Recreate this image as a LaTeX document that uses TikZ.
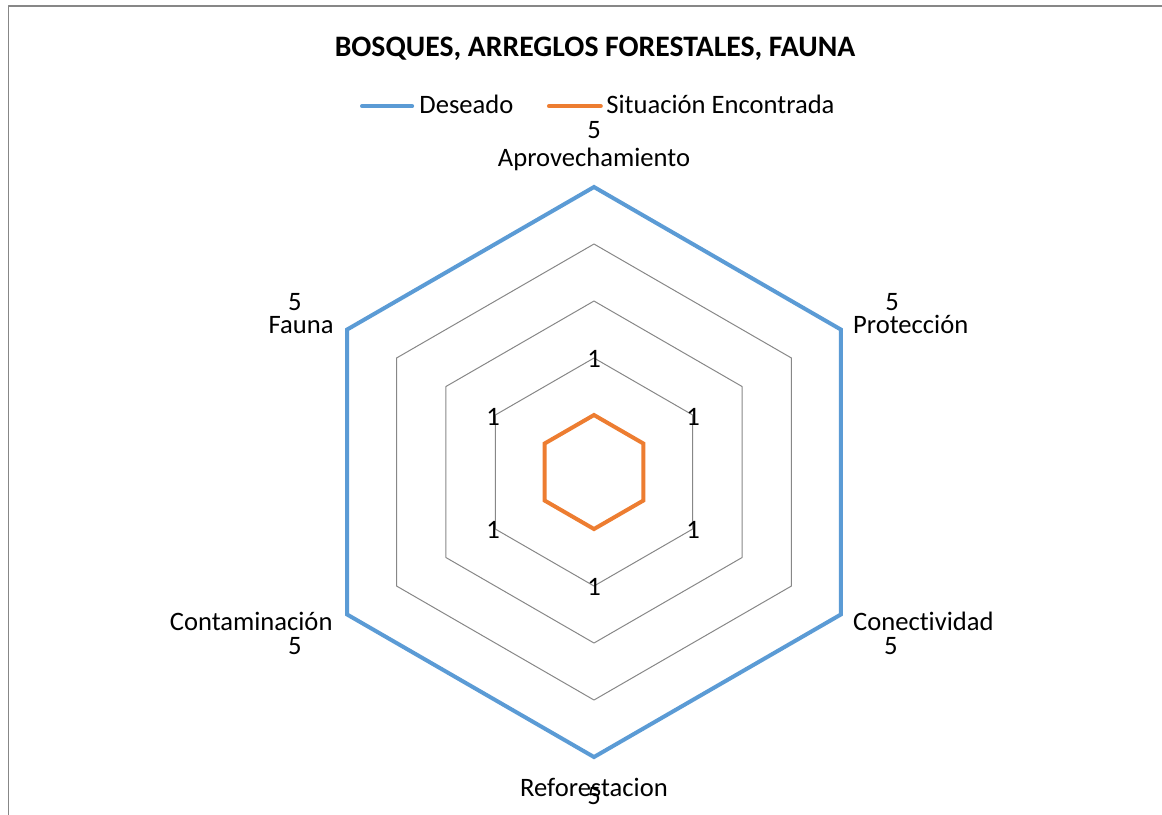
\documentclass[tikz,border=0pt]{standalone}
\usepackage{fontspec}
\setmainfont{Carlito}[RawFeature=-liga]
\usepackage{tikz}
\usetikzlibrary{arrows}
\definecolor{wwbbdd}{rgb}{0.357,0.608,0.835}
\definecolor{eebbqq}{rgb}{0.929,0.490,0.192}
\definecolor{hhhhhh}{rgb}{0.53,0.53,0.53}

\begin{document}
\begin{tikzpicture}[line cap=round,line join=round,x=28.5pt,y=28.5pt,
  lbl/.style={anchor=base,inner sep=0pt,font=\fontsize{13.3}{15}\selectfont}]
\useasboundingbox (-10.421,-6) rectangle (9.965,8.281);
% chart frame
\draw [color=hhhhhh,line width=0.75pt] (-10.272,-6.5) -- (-10.272,8.175) -- (10.5,8.175);
% grid rings
\foreach \r in {1,2,3,4}
  \draw [color=hhhhhh,line width=0.5pt] (90:\r) -- (30:\r) -- (-30:\r) -- (-90:\r) -- (-150:\r) -- (150:\r) -- cycle;
% series
\draw [color=wwbbdd,line width=2pt,line join=miter] (90:5) -- (30:5) -- (-30:5) -- (-90:5) -- (-150:5) -- (150:5) -- cycle;
\draw [color=eebbqq,line width=2pt,line join=miter] (90:1) -- (30:1) -- (-30:1) -- (-90:1) -- (-150:1) -- (150:1) -- cycle;
% title and legend
\node [anchor=base,inner sep=0pt,font=\fontsize{14.85}{17}\selectfont\bfseries] (title) at (0.018,7.293) {BOSQUES, ARREGLOS FORESTALES, FAUNA};
\draw [color=wwbbdd,line width=2pt] (-4.07,6.42) -- (-3.19,6.42);
\node [lbl,anchor=base west] (deseado) at (-3.07,6.288) {Deseado};
\draw [color=eebbqq,line width=2pt] (-0.79,6.42) -- (0.12,6.42);
\node [lbl,anchor=base west] (situacion) at (0.21,6.288) {Situación Encontrada};
% axis labels
\node [lbl] (vapro) at (0,5.849) {5};
\node [lbl] (apro) at (0,5.36) {Aprovechamiento};
\node [lbl] (vprot) at (5.23,2.83) {5};
\node [lbl,anchor=base west] (prot) at (4.54,2.43) {Protección};
\node [lbl,anchor=base west] (conec) at (4.54,-2.78) {Conectividad};
\node [lbl] (vconec) at (5.21,-3.204) {5};
\node [lbl] (refor) at (0,-5.7) {Reforestacion};
\node [lbl] (vrefor) at (0,-5.835) {5};
\node [lbl,anchor=base east] (conta) at (-4.58,-2.78) {Contaminación};
\node [lbl] (vconta) at (-5.25,-3.204) {5};
\node [lbl] (vfauna) at (-5.25,2.83) {5};
\node [lbl,anchor=base east] (fauna) at (-4.56,2.43) {Fauna};
% data labels
\node [lbl] (d1) at (0,1.832) {1};
\node [lbl] (d2) at (1.737,0.814) {1};
\node [lbl] (d3) at (1.737,-1.168) {1};
\node [lbl] (d4) at (0,-2.168) {1};
\node [lbl] (d5) at (-1.772,-1.168) {1};
\node [lbl] (d6) at (-1.772,0.814) {1};
\end{tikzpicture}
\end{document}
